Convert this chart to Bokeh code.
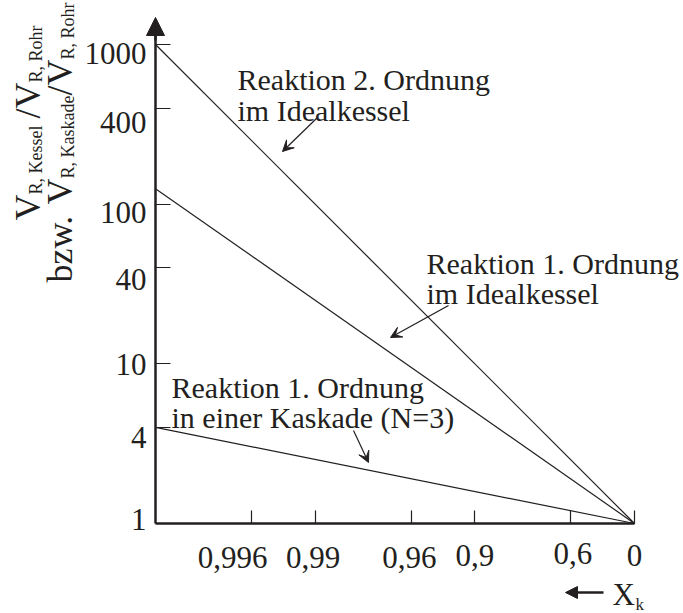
from math import pi
from bokeh.plotting import figure
from bokeh.models import Range1d, FixedTicker, Label, Arrow, NormalHead, VeeHead
from bokeh.embed import file_html
from bokeh.resources import INLINE

# ---- data (x axis is 1 - X_k on a log scale, labelled with X_k) ----
one_minus_x = [0.001, 1.0]
ratio_2nd_order_cstr = [1000, 1]
ratio_1st_order_cstr = [125, 1]
ratio_1st_order_cascade = [4, 1]

x_ticks = [0.004, 0.01, 0.04, 0.1, 0.4, 1.0]
x_tick_labels = ["0,996", "0,99", "0,96", "0,9", "0,6", "0"]
y_ticks = [1, 4, 10, 40, 100, 400, 1000]
y_tick_labels = ["1", "4", "10", "40", "100", "400", "1000"]

FONT = "Liberation Serif"
INK = "#231f20"
W, H = 683, 613

# axis origin (pixels) and scale -> helpers to place annotations
X0, Y0 = 155, 523
PX_PER_DEC = 479 / 3.0
BASE_FIX = 0.35  # empirical shift so that Label baselines land where intended


def xd(px):
    return 10 ** (-3 + (px - X0) / PX_PER_DEC)


def yd(py):
    return 10 ** ((Y0 - py) / PX_PER_DEC)


p = figure(width=W, height=H, x_axis_type="log", y_axis_type="log",
           x_range=Range1d(xd(0), xd(W)), y_range=Range1d(yd(H), yd(0)),
           output_backend="svg", toolbar_location=None,
           min_border=0, min_border_left=0, min_border_right=0,
           min_border_top=0, min_border_bottom=0)
p.outline_line_color = None
p.grid.visible = False
p.background_fill_color = "white"
p.border_fill_color = "white"

for ax in (p.xaxis[0], p.yaxis[0]):
    ax.axis_line_width = 2.5
    ax.axis_line_color = INK
    ax.major_tick_out = 0
    ax.major_tick_line_width = 1.2
    ax.major_tick_line_color = INK
    ax.minor_tick_line_color = None

p.xaxis.fixed_location = 1.0
p.xaxis.ticker = FixedTicker(ticks=x_ticks)
p.xaxis.major_label_overrides = {t: "" for t in x_ticks}
p.xaxis.major_tick_in = 13
p.xaxis.bounds = (one_minus_x[0], one_minus_x[-1])

p.yaxis.fixed_location = one_minus_x[0]
p.yaxis.ticker = FixedTicker(ticks=y_ticks)
p.yaxis.major_label_overrides = {float(t): "" for t in y_ticks}
p.yaxis.major_tick_in = 15
p.yaxis.bounds = (1, yd(34))

# tick labels, placed like in the original (slightly irregular)
p.text(x=x_ticks, y=[1] * len(x_ticks), text=x_tick_labels,
       x_offset=[-19, -2, -2, 0, 2, 0], y_offset=[23, 23, 23, 21, 19, 21],
       text_font="Liberation Serif", text_font_size="31px", text_color=INK,
       text_align="center", text_baseline="top")
p.text(x=[one_minus_x[0]] * len(y_ticks), y=y_ticks, text=y_tick_labels,
       x_offset=-9, y_offset=[-4, 10, 1, 12, 8, 14, 9],
       text_font="Liberation Serif", text_font_size="31px", text_color=INK,
       text_align="right", text_baseline="middle")

# ---- curves ----
for ys in (ratio_2nd_order_cstr, ratio_1st_order_cstr, ratio_1st_order_cascade):
    p.line(one_minus_x, ys, line_color=INK, line_width=1.2)

# y axis arrow head
p.add_layout(Arrow(x_start=xd(X0), y_start=yd(40), x_end=xd(X0), y_end=yd(17),
                   line_color=INK, line_width=2.5,
                   end=NormalHead(size=18, fill_color=INK, line_color=INK)))


def lab(text, px, py, size, angle=0.0):
    if angle:
        px -= BASE_FIX * size
    else:
        py -= BASE_FIX * size
    p.add_layout(Label(x=xd(px), y=yd(py), text=text, angle=angle,
                       text_font=FONT, text_font_size=f"{size}px",
                       text_color=INK, text_align="left",
                       text_baseline="alphabetic"))


def arrow(x0, y0, x1, y1):
    p.add_layout(Arrow(x_start=xd(x0), y_start=yd(y0), x_end=xd(x1), y_end=yd(y1),
                       line_color=INK, line_width=1.2,
                       end=VeeHead(size=11, fill_color=INK, line_color=INK, line_width=1)))


# annotations
lab("Reaktion 2. Ordnung", 237, 89, 30)
lab("im Idealkessel", 237, 120, 30)
arrow(317, 117, 282, 151)

lab("Reaktion 1. Ordnung", 426, 273, 30)
lab("im Idealkessel", 426, 303, 30)
arrow(448, 305, 390, 337)

lab("Reaktion 1. Ordnung", 171, 397, 30)
lab("in einer Kaskade (N=3)", 171, 427, 30)
arrow(353, 430, 368, 462)

# x axis title:  <- X_k
p.add_layout(Arrow(x_start=xd(603), y_start=yd(592), x_end=xd(565), y_end=yd(592),
                   line_color=INK, line_width=2.5,
                   end=NormalHead(size=12, fill_color=INK, line_color=INK)))
lab("X", 612, 605, 31)
lab("k", 635, 610, 17)

# y axis title (rotated, with subscripts), built from segments
W_TNR = {" ": 250, ",": 250, ".": 250, "/": 278, "R": 667, "K": 722, "V": 722,
         "a": 444, "b": 500, "d": 500, "e": 444, "h": 500, "k": 500, "l": 278,
         "o": 500, "r": 333, "s": 389, "w": 722, "z": 444}


def twidth(s, size):
    return sum(W_TNR.get(c, 500) for c in s) * size / 1000.0


MAIN, SUB = 36, 18


def rotated_line(segments, base_x, start_y):
    y = start_y
    for text, is_sub, gap in segments:
        size = SUB if is_sub else MAIN
        y -= gap
        bx = base_x + (2 if is_sub else 0)
        lab(text, bx, y, size, angle=pi / 2)
        y -= twidth(text, size)


rotated_line([("V", False, 0), ("R, Kessel", True, 0), ("/", False, 7), ("V", False, 0),
              ("R, Rohr", True, 0)], 40, 220)
rotated_line([("bzw.", False, 0), ("V", False, 9), ("R, Kaskade", True, 0), ("/", False, 0),
              ("V", False, 0), ("R, Rohr", True, 0)], 72, 282)

open("out.html", "w").write(file_html(p, INLINE))
